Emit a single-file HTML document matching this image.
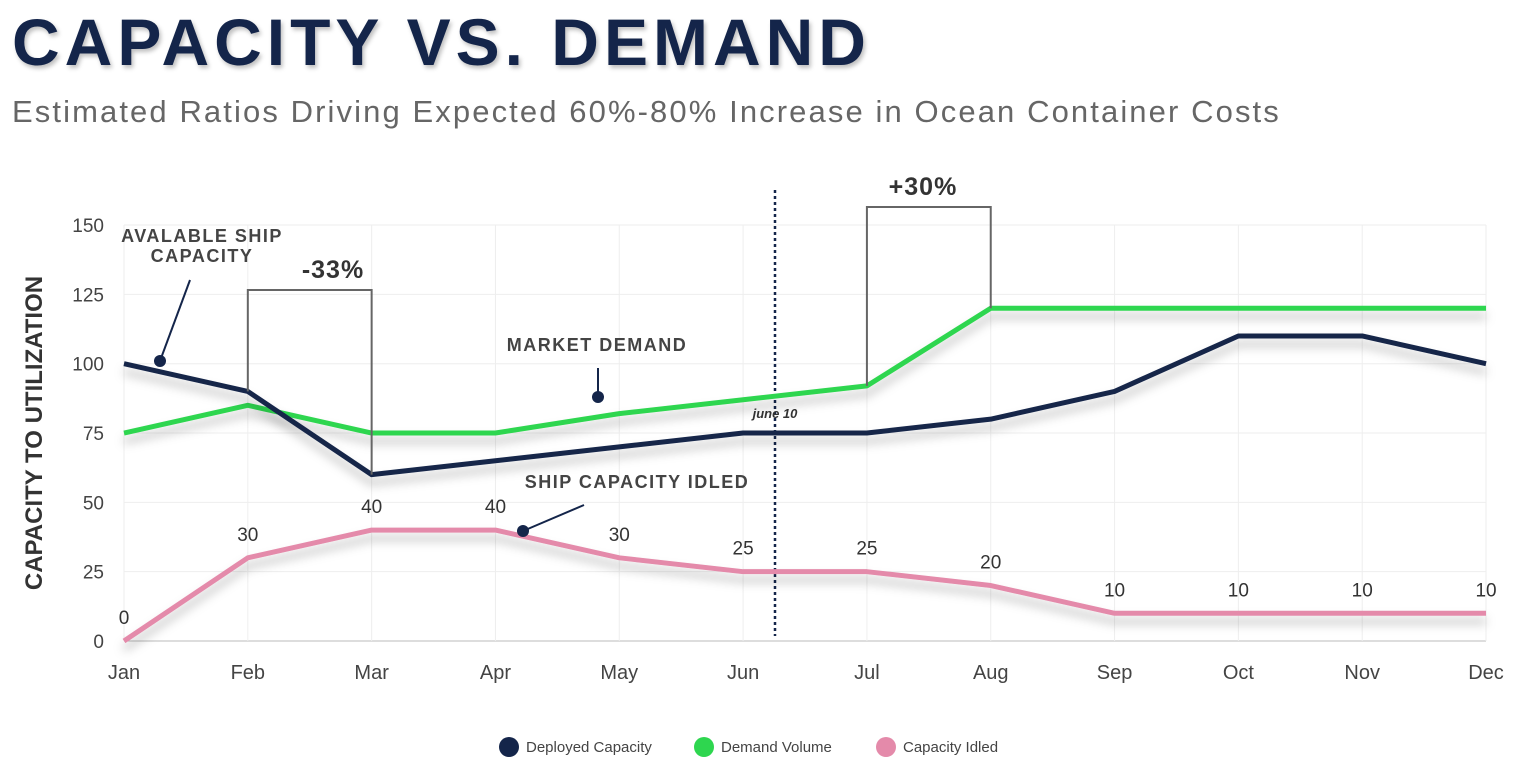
<!DOCTYPE html>
<html><head><meta charset="utf-8">
<style>
body{margin:0;background:#fff;width:1520px;height:769px;overflow:hidden;font-family:"Liberation Sans",sans-serif}
#title{position:absolute;left:12px;top:4px;font-size:66px;font-weight:bold;color:#14254a;letter-spacing:5px;text-shadow:2px 3px 4px rgba(0,0,0,0.25)}
#sub{position:absolute;left:12px;top:94px;font-size:31px;letter-spacing:2.1px;color:#666}
svg{position:absolute;left:0;top:0}
</style></head><body>
<div id="title">CAPACITY VS. DEMAND</div>
<div id="sub">Estimated Ratios Driving Expected 60%-80% Increase in Ocean Container Costs</div>
<svg id="chart" width="1520" height="769">
<defs><filter id="sh" x="-10%" y="-50%" width="120%" height="200%"><feDropShadow dx="0" dy="8" stdDeviation="5" flood-color="#000" flood-opacity="0.25"/></filter></defs>
</svg>
<script>
const months=["Jan","Feb","Mar","Apr","May","Jun","Jul","Aug","Sep","Oct","Nov","Dec"];
const deployed=[100,90,60,65,70,75,75,80,90,110,110,100];
const demand=[75,85,75,75,82,87,92,120,120,120,120,120];
const idled=[0,30,40,40,30,25,25,20,10,10,10,10];
const yTicks=[0,25,50,75,100,125,150];
const NS="http://www.w3.org/2000/svg";
const svg=document.getElementById('chart');
const X=i=>124+i*123.82;
const Y=v=>641-v*2.773;
function mk(t,a,p){const e=document.createElementNS(NS,t);for(const k in a)e.setAttribute(k,a[k]);(p||svg).appendChild(e);return e;}
function txt(s,x,y,a,p){const e=document.createElementNS(NS,'text');const b=Object.assign({x:x,y:y,'font-family':'Liberation Sans, sans-serif'},a);for(const k in b)e.setAttribute(k,b[k]);e.textContent=s;(p||svg).appendChild(e);return e;}
yTicks.forEach(v=>{const l=mk('line',{x1:124,x2:1486,y1:Y(v),y2:Y(v),stroke:v===0?'#bbb':'#eee','stroke-width':1});


const t=txt(v,104,Y(v)+7,{'font-size':19,fill:'#444','text-anchor':'end'});

});
months.forEach((m,i)=>{const l=mk('line',{x1:X(i),x2:X(i),y1:Y(150),y2:Y(0),stroke:'#eee'});


const t=txt(m,X(i),679,{'font-size':20,fill:'#444','text-anchor':'middle'});

});
const yt=txt('CAPACITY TO UTILIZATION',42,433,{'font-size':24,'font-weight':'bold',fill:'#333','text-anchor':'middle',transform:'rotate(-90 42 433)'});


const jl=mk('line',{x1:775,x2:775,y1:190,y2:636,stroke:'#14254a','stroke-width':2.5,'stroke-dasharray':'3,3'});


const jt=txt('june 10',775,418,{'font-size':13,'font-style':'italic','font-weight':'bold',fill:'#333','text-anchor':'middle'});


function series(d,c,n){const p=mk('polyline',{points:d.map((v,i)=>X(i)+','+Y(v)).join(' '),fill:'none',stroke:c,'stroke-width':5,'stroke-linejoin':'round',filter:'url(#sh)'});

}
series(idled,'#e48aaa','series-capacity-idled');
series(demand,'#2ed64f','series-demand-volume');
series(deployed,'#14254a','series-deployed-capacity');
idled.forEach((v,i)=>{const t=txt(v,X(i),Y(v)-17,{'font-size':19,fill:'#333','text-anchor':'middle'});

});
function bracket(i1,i2,top,b1,b2,label,lx,n){const g=mk('g',{});


mk('polyline',{points:`${X(i1)},${b1} ${X(i1)},${top} ${X(i2)},${top} ${X(i2)},${b2}`,fill:'none',stroke:'#666','stroke-width':2},g);
txt(label,lx,top-12,{'font-size':25,'font-weight':'bold',fill:'#333','text-anchor':'middle','letter-spacing':1},g);}
bracket(1,2,290,Y(deployed[1]),Y(deployed[2]),'-33%',333,'bracket-minus-33');
bracket(6,7,207,Y(demand[6]),Y(demand[7]),'+30%',923,'bracket-plus-30');
function ann(lines,x,y,lx1,ly1,lx2,ly2,n){const g=mk('g',{});


lines.forEach((s,k)=>txt(s,x,y+k*20,{'font-size':18,'font-weight':'bold',fill:'#444','text-anchor':'middle','letter-spacing':1.5},g));
mk('line',{x1:lx1,y1:ly1,x2:lx2,y2:ly2,stroke:'#14254a','stroke-width':2},g);
mk('circle',{cx:lx2,cy:ly2,r:6,fill:'#14254a'},g);}
ann(['AVALABLE SHIP','CAPACITY'],202,242,190,280,160,361,'annotation-available-capacity');
ann(['MARKET DEMAND'],597,351,598,368,598,397,'annotation-market-demand');
ann(['SHIP CAPACITY IDLED'],637,488,584,505,523,531,'annotation-capacity-idled');
const leg=[['Deployed Capacity','#14254a',509],['Demand Volume','#2ed64f',704],['Capacity Idled','#e48aaa',886]];
leg.forEach(l=>{const g=mk('g',{});


mk('circle',{cx:l[2],cy:747,r:10,fill:l[1]},g);
txt(l[0],l[2]+17,752,{'font-size':15,fill:'#444'},g);});
</script>
</body></html>
